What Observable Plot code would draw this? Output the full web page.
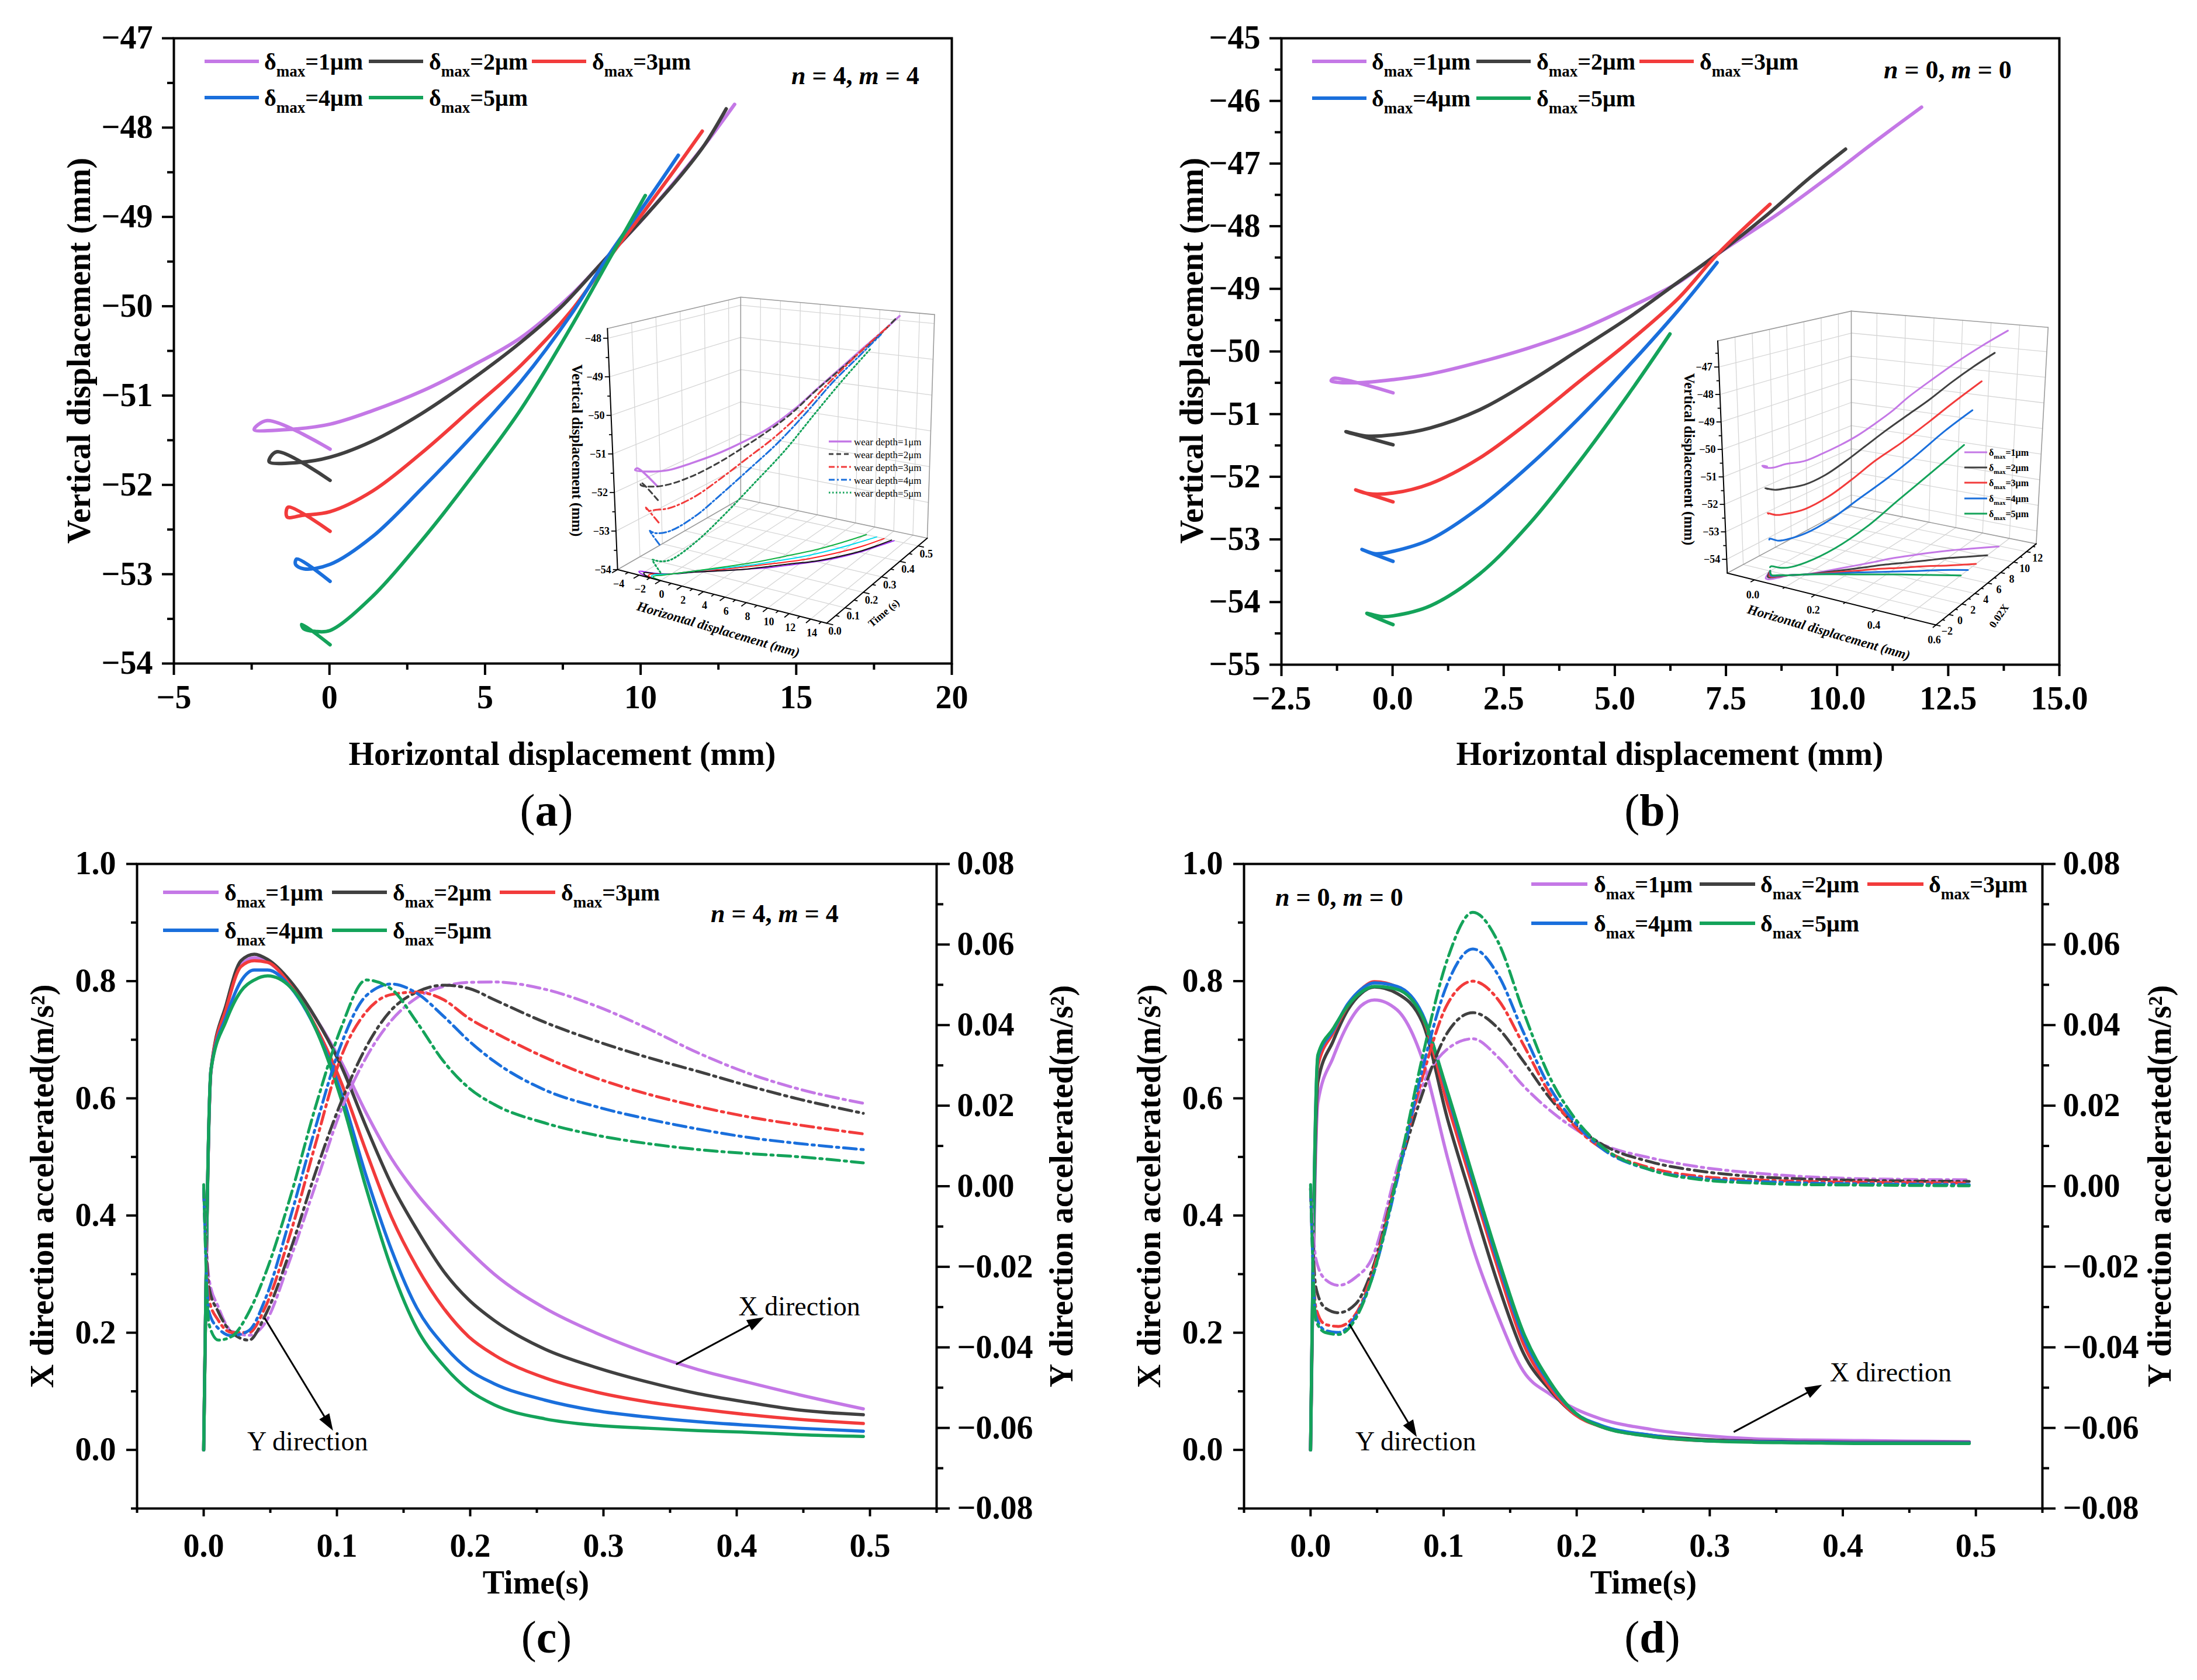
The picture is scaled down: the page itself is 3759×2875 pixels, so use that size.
<!DOCTYPE html>
<html>
<head>
<meta charset="utf-8">
<script src="https://cdn.jsdelivr.net/npm/d3@7"></script>
<script src="https://cdn.jsdelivr.net/npm/@observablehq/plot@0.6"></script>
<style>
html,body{margin:0;padding:0;background:#fff;}
#root{position:relative;width:3759px;height:2875px;background:#fff;overflow:hidden;font-family:"Liberation Serif","Times New Roman",serif;color:#000;}
.abs{position:absolute;white-space:nowrap;line-height:1;}
</style>
</head>
<body>
<div id="root"></div>
<script>
// ---------------- DATA ----------------
const COLORS = ["#c478e6", "#404040", "#f23b3b", "#1a6fdc", "#14a35a"];
const WEAR = [1, 2, 3, 4, 5];

// Panel (a): n=4, m=4 — horizontal (mm), vertical (mm), time (s, for 3D inset)
const A_H = [
  [0.02,-2.0,-2.42,-1.33,0.02,1.38,2.97,4.57,6.16,7.75,9.03,10.15,11.42,12.22,13.02],
  [0.02,-1.70,-1.94,-1.01,0.02,1.38,2.97,4.57,6.16,7.44,8.87,10.15,11.26,12.06,12.75],
  [0.02,-1.33,-1.36,-0.85,0.02,1.38,2.97,4.57,6.16,7.75,9.03,10.15,11.10,11.98],
  [0.02,-1.05,-1.09,-0.82,0.02,1.38,2.97,4.57,6.16,7.75,9.03,10.15,11.21],
  [0.02,-0.89,-0.83,-0.46,0.02,1.38,2.97,4.57,6.16,7.75,9.03,10.15]
];
const A_V = [
  [-51.60,-51.28,-51.38,-51.38,-51.32,-51.17,-50.95,-50.67,-50.35,-49.88,-49.41,-48.99,-48.47,-48.12,-47.74],
  [-51.95,-51.63,-51.74,-51.75,-51.69,-51.51,-51.20,-50.82,-50.40,-50.01,-49.47,-48.99,-48.55,-48.19,-47.79],
  [-52.52,-52.25,-52.36,-52.34,-52.30,-52.07,-51.64,-51.15,-50.66,-50.06,-49.44,-48.92,-48.47,-48.04],
  [-53.08,-52.83,-52.89,-52.94,-52.89,-52.58,-52.04,-51.46,-50.84,-50.10,-49.40,-48.85,-48.31],
  [-53.79,-53.56,-53.61,-53.64,-53.63,-53.25,-52.62,-51.91,-51.15,-50.24,-49.45,-48.76]
];
const A_T = [
  [0,0.01,0.02,0.03,0.05,0.09,0.13,0.17,0.21,0.26,0.30,0.34,0.40,0.45,0.50],
  [0,0.01,0.02,0.03,0.05,0.09,0.13,0.17,0.22,0.26,0.30,0.35,0.40,0.45,0.50],
  [0,0.01,0.02,0.03,0.05,0.10,0.14,0.19,0.24,0.29,0.34,0.39,0.44,0.50],
  [0,0.01,0.02,0.03,0.05,0.10,0.15,0.20,0.26,0.32,0.38,0.44,0.50],
  [0,0.01,0.02,0.03,0.05,0.10,0.16,0.22,0.29,0.36,0.43,0.50]
];

// Panel (b): n=0, m=0
const B_H = [
  [0.01,-1.33,-1.38,-0.83,0.01,0.85,1.96,3.08,4.20,5.31,6.43,7.32,8.66,9.78,10.89,11.90],
  [0.01,-1.05,-0.60,0.01,0.85,1.96,3.08,4.20,5.31,6.43,7.32,8.44,9.33,10.19],
  [0.01,-0.83,-0.55,0.01,0.85,1.96,3.08,4.20,5.31,6.43,7.32,8.49],
  [0.01,-0.69,-0.38,0.01,0.85,1.96,3.08,4.20,5.31,6.43,7.30],
  [0.01,-0.58,-0.27,0.01,0.85,1.96,3.08,4.20,5.31,6.24]
];
const B_V = [
  [-50.66,-50.43,-50.47,-50.50,-50.45,-50.36,-50.17,-49.94,-49.66,-49.30,-48.90,-48.44,-47.81,-47.23,-46.63,-46.10],
  [-51.49,-51.28,-51.35,-51.33,-51.22,-50.93,-50.48,-49.97,-49.46,-48.89,-48.44,-47.81,-47.26,-46.77],
  [-52.40,-52.21,-52.27,-52.26,-52.11,-51.70,-51.12,-50.48,-49.85,-49.15,-48.44,-47.65],
  [-53.35,-53.16,-53.23,-53.19,-53.00,-52.49,-51.82,-51.06,-50.23,-49.34,-48.58],
  [-54.36,-54.18,-54.23,-54.22,-54.06,-53.55,-52.75,-51.76,-50.68,-49.72]
];
const B_T = [
  [0,0.02,0.03,0.045,0.06,0.10,0.13,0.16,0.19,0.22,0.25,0.28,0.33,0.38,0.44,0.50],
  [0,0.02,0.04,0.06,0.10,0.14,0.18,0.22,0.26,0.31,0.35,0.40,0.45,0.50],
  [0,0.02,0.04,0.06,0.10,0.15,0.20,0.25,0.31,0.37,0.43,0.50],
  [0,0.02,0.04,0.06,0.10,0.16,0.22,0.29,0.36,0.43,0.50],
  [0,0.02,0.04,0.06,0.10,0.17,0.25,0.33,0.42,0.50]
];

// Panel (c): n=4, m=4 accelerations
const C_TX = [0,0.0055,0.017,0.028,0.038,0.048,0.065,0.084,0.103,0.122,0.141,0.160,0.180,0.199,0.218,0.256,0.294,0.333,0.371,0.409,0.447,0.495];
const C_X = [
  [0,0.646,0.754,0.828,0.840,0.833,0.797,0.737,0.663,0.575,0.497,0.437,0.385,0.340,0.300,0.242,0.200,0.165,0.137,0.115,0.094,0.070],
  [0,0.649,0.761,0.835,0.846,0.837,0.800,0.737,0.656,0.551,0.453,0.376,0.305,0.256,0.221,0.172,0.141,0.116,0.096,0.081,0.068,0.060],
  [0,0.649,0.754,0.825,0.835,0.832,0.793,0.723,0.628,0.509,0.397,0.312,0.242,0.193,0.162,0.123,0.099,0.082,0.070,0.060,0.052,0.045],
  [0,0.649,0.740,0.800,0.819,0.819,0.790,0.719,0.611,0.467,0.341,0.242,0.179,0.137,0.113,0.085,0.067,0.056,0.048,0.042,0.037,0.032],
  [0,0.649,0.733,0.783,0.802,0.809,0.790,0.719,0.600,0.446,0.309,0.207,0.144,0.102,0.077,0.053,0.042,0.037,0.033,0.030,0.026,0.023]
];
const C_TY = [0,0.004,0.011,0.021,0.034,0.046,0.065,0.084,0.103,0.122,0.141,0.160,0.180,0.199,0.218,0.256,0.294,0.333,0.371,0.409,0.447,0.495];
const C_Y = [
  [-0.001,-0.023,-0.030,-0.036,-0.037,-0.034,-0.018,0.0004,0.0188,0.032,0.0412,0.0468,0.0496,0.0506,0.0507,0.0489,0.0448,0.0392,0.0331,0.028,0.0241,0.0206],
  [-0.0006,-0.0251,-0.0312,-0.0363,-0.0382,-0.0322,-0.0159,0.0035,0.0208,0.0346,0.0438,0.0482,0.0499,0.0491,0.0463,0.0407,0.0361,0.032,0.0285,0.0249,0.0216,0.0181],
  [-0.0006,-0.0282,-0.0333,-0.0363,-0.0363,-0.0302,-0.0118,0.0106,0.032,0.0433,0.0476,0.0482,0.0463,0.0417,0.0382,0.032,0.0269,0.0229,0.0198,0.0172,0.0152,0.013],
  [-0.0006,-0.0312,-0.0353,-0.0371,-0.0358,-0.0282,-0.0078,0.0147,0.0351,0.0473,0.0502,0.0479,0.0422,0.0361,0.031,0.0239,0.0198,0.0167,0.0142,0.0121,0.0106,0.0091],
  [0.0004,-0.0343,-0.0382,-0.0373,-0.0312,-0.022,-0.0027,0.0198,0.0392,0.0512,0.0489,0.0407,0.031,0.0244,0.0203,0.0157,0.0127,0.0106,0.0091,0.0081,0.0073,0.0058]
];

// Panel (d): n=0, m=0 accelerations
const D_TX = [0,0.0055,0.017,0.028,0.038,0.048,0.065,0.084,0.103,0.122,0.141,0.160,0.180,0.199,0.218,0.256,0.294,0.333,0.371,0.409,0.447,0.495];
const D_X = [
  [0,0.593,0.670,0.726,0.758,0.768,0.751,0.667,0.498,0.345,0.228,0.134,0.095,0.070,0.053,0.035,0.025,0.019,0.017,0.016,0.015,0.014],
  [0,0.628,0.698,0.751,0.779,0.790,0.779,0.730,0.564,0.421,0.282,0.165,0.102,0.060,0.040,0.025,0.018,0.015,0.014,0.013,0.013,0.013],
  [0,0.656,0.712,0.758,0.786,0.799,0.790,0.740,0.590,0.449,0.309,0.181,0.106,0.060,0.040,0.023,0.016,0.014,0.013,0.012,0.012,0.012],
  [0,0.670,0.716,0.761,0.786,0.797,0.791,0.744,0.607,0.460,0.320,0.193,0.113,0.063,0.042,0.025,0.016,0.014,0.013,0.012,0.012,0.012],
  [0,0.674,0.719,0.758,0.781,0.791,0.786,0.740,0.611,0.467,0.327,0.200,0.116,0.063,0.040,0.023,0.016,0.013,0.012,0.011,0.011,0.011]
];
const D_TY = [0,0.004,0.011,0.021,0.034,0.046,0.065,0.084,0.103,0.122,0.141,0.160,0.180,0.199,0.218,0.256,0.294,0.333,0.371,0.409,0.447,0.495];
const D_Y = [
  [0.0004,-0.018,-0.0231,-0.0246,-0.0226,-0.018,0.0045,0.0249,0.0341,0.0366,0.032,0.0249,0.0188,0.0142,0.0106,0.007,0.0047,0.0033,0.0024,0.0019,0.0017,0.0016],
  [-0.0006,-0.0251,-0.0302,-0.0314,-0.0292,-0.021,0.0024,0.0229,0.0382,0.0431,0.0392,0.031,0.0218,0.0152,0.0106,0.006,0.0037,0.0024,0.0018,0.0015,0.0013,0.0012],
  [-0.0006,-0.0302,-0.0343,-0.0348,-0.0317,-0.022,0.0024,0.0269,0.0453,0.0509,0.0463,0.0351,0.0229,0.0147,0.0096,0.0045,0.0024,0.0016,0.0012,0.001,0.0009,0.0008],
  [-0.0006,-0.0322,-0.0358,-0.0363,-0.0322,-0.0231,0.0014,0.029,0.0504,0.0589,0.0524,0.0382,0.0244,0.0157,0.0096,0.004,0.0019,0.0012,0.0008,0.0006,0.0005,0.0004],
  [0.0004,-0.0333,-0.0363,-0.0368,-0.0328,-0.0231,0.0024,0.032,0.0565,0.068,0.0606,0.0433,0.0269,0.0167,0.0101,0.004,0.0016,0.0008,0.0004,0.0003,0.0002,0.0001]
];

// ticks
const A_XTICKS = [-5,0,5,10,15,20], A_XMINOR = [-2.5,2.5,7.5,12.5,17.5];
const A_YTICKS = [-54,-53,-52,-51,-50,-49,-48,-47], A_YMINOR = [-53.5,-52.5,-51.5,-50.5,-49.5,-48.5,-47.5];
const B_XTICKS = [-2.5,0,2.5,5,7.5,10,12.5,15], B_XMINOR = [-1.25,1.25,3.75,6.25,8.75,11.25,13.75];
const B_YTICKS = [-55,-54,-53,-52,-51,-50,-49,-48,-47,-46,-45], B_YMINOR = [-54.5,-53.5,-52.5,-51.5,-50.5,-49.5,-48.5,-47.5,-46.5,-45.5];
const T_TICKS = [0,0.1,0.2,0.3,0.4,0.5], T_MINOR = [-0.05,0.05,0.15,0.25,0.35,0.45,0.55];
const XACC_TICKS = [0,0.2,0.4,0.6,0.8,1.0], XACC_MINOR = [-0.1,0.1,0.3,0.5,0.7,0.9];
const YACC_TICKS = [-0.08,-0.06,-0.04,-0.02,0,0.02,0.04,0.06,0.08], YACC_MINOR = [-0.07,-0.05,-0.03,-0.01,0.01,0.03,0.05,0.07];

// annotations
const C_NOTES = [{text:"X direction", t:0.447, y:0.244}, {text:"Y direction", t:0.078, y:0.014}];
const C_ARROWS = [{t1:0.3545,y1:0.146,t2:0.4176,y2:0.223},{t1:0.0457,y1:0.225,t2:0.0954,y2:0.039}];
const D_NOTES = [{text:"X direction", t:0.436, y:0.132}, {text:"Y direction", t:0.079, y:0.014}];
const D_ARROWS = [{t1:0.318,y1:0.0305,t2:0.3816,y2:0.1077},{t1:0.0292,y1:0.2143,t2:0.0782,y2:0.0284}];

// ---------------- HELPERS ----------------
const root = document.getElementById("root");
const BASE_STYLE = {fontFamily:"'Liberation Serif','Times New Roman',serif", maxWidth:"none", overflow:"visible", background:"transparent", display:"block", fontWeight:"bold"};
const Y2L = r => (r + 0.08) / 0.16 * 1.1 - 0.1;
const L2Y = l => (l + 0.1) / 1.1 * 0.16 - 0.08;
function fmtNum(d, n) {
  const a = Math.abs(d) < 1e-9 ? 0 : d;
  return (a < 0 ? "\u2212" : "") + Math.abs(a).toFixed(n);
}
function place(el, left, top) {
  el.style.position = "absolute"; el.style.left = left + "px"; el.style.top = top + "px";
  root.appendChild(el);
}
function txt(html, x, y, o = {}) {
  const d = document.createElement("div");
  d.className = "abs";
  d.innerHTML = html;
  d.style.left = x + "px"; d.style.top = y + "px";
  d.style.fontSize = (o.size || 56) + "px";
  d.style.fontWeight = o.weight || "bold";
  if (o.italic) d.style.fontStyle = "italic";
  const ax = o.anchor === "start" ? "0" : o.anchor === "end" ? "-100%" : "-50%";
  d.style.transform = `translate(${ax},-50%)` + (o.rotate ? ` rotate(${o.rotate}deg)` : "");
  root.appendChild(d);
  return d;
}
function legendEntry(e) {
  const ns = "http://www.w3.org/2000/svg";
  const svg = document.createElementNS(ns, "svg");
  const len = e.x2 - e.x1;
  svg.setAttribute("width", len); svg.setAttribute("height", e.lw * 2 + 2);
  svg.style.position = "absolute"; svg.style.left = e.x1 + "px"; svg.style.top = (e.y - e.lw - 1) + "px"; svg.style.overflow = "visible";
  const ln = document.createElementNS(ns, "line");
  ln.setAttribute("x1", 0); ln.setAttribute("x2", len);
  ln.setAttribute("y1", e.lw + 1); ln.setAttribute("y2", e.lw + 1);
  ln.setAttribute("stroke", e.color); ln.setAttribute("stroke-width", e.lw);
  if (e.dash) ln.setAttribute("stroke-dasharray", e.dash);
  svg.appendChild(ln); root.appendChild(svg);
  txt(e.html, e.tx, e.y + 1, {size: e.size, weight: e.weight || "bold", anchor: "start"});
}
function deltaHtml(k, size, sub, dy) {
  return `δ<span style="font-size:${sub}px;position:relative;top:${dy}px">max</span>=${k}μm`;
}
function mainLegend(rows, cols) {
  const slots = [[0,0],[0,1],[0,2],[1,0],[1,1]];
  slots.forEach(([r, c], s) => legendEntry({x1: cols[c][0], x2: cols[c][1], tx: cols[c][2], y: rows[r], color: COLORS[s], lw: 6, size: 40, html: deltaHtml(WEAR[s], 40, 27, 12)}));
}
function fixArrows(svg) {
  svg.querySelectorAll("marker").forEach(m => {
    m.setAttribute("markerWidth", "16"); m.setAttribute("markerHeight", "16");
    m.setAttribute("fill", "#000"); m.setAttribute("stroke", "none");
    const p = m.querySelector("path");
    if (p) p.setAttribute("d", "M-4.5,-2.1L1.5,0L-4.5,2.1Z");
  });
}

function mainPanel(p) {
  const tickText = {fontSize: 56, fontWeight: "bold", strokeWidth: 4, label: null};
  const marks = [...p.marks,
    Plot.frame({stroke: "#000", strokeWidth: 4}),
    Plot.axisX(p.xMajor, {anchor: "bottom", tickSize: p.xt[0], tickPadding: p.xPad, tickFormat: p.xFmt, ...tickText}),
    Plot.axisX(p.xMinor, {anchor: "bottom", tickSize: p.xt[1], tickFormat: () => "", strokeWidth: 4, label: null}),
    Plot.axisY(p.yMajor, {anchor: "left", tickSize: p.yt[0], tickPadding: p.yPad, tickFormat: p.yFmt, ...tickText}),
    Plot.axisY(p.yMinor, {anchor: "left", tickSize: p.yt[1], tickFormat: () => "", strokeWidth: 4, label: null})
  ];
  if (p.right) {
    marks.push(
      Plot.axisY(YACC_TICKS.map(Y2L), {anchor: "right", tickSize: 22, tickPadding: 13, tickFormat: l => fmtNum(L2Y(l), 2), ...tickText}),
      Plot.axisY(YACC_MINOR.map(Y2L), {anchor: "right", tickSize: 11, tickFormat: () => "", strokeWidth: 4, label: null})
    );
  }
  const svg = Plot.plot({
    width: p.width, height: p.height,
    marginLeft: p.mL, marginRight: p.mR, marginTop: p.mT, marginBottom: p.mB,
    x: {domain: p.xDomain, label: null}, y: {domain: p.yDomain, label: null},
    style: BASE_STYLE, marks
  });
  place(svg, p.left, p.top);
  return svg;
}

function trajMarks(H, V) {
  return H.map((hs, s) => Plot.line(hs.map((h, i) => ({x: h, y: V[s][i]})),
    {x: "x", y: "y", stroke: COLORS[s], strokeWidth: 6, curve: "catmull-rom", strokeLinecap: "round", strokeLinejoin: "round"}));
}
function accMarks(TX, X, TY, Y, notes, arrows) {
  const m = [];
  X.forEach((vals, s) => m.push(Plot.line(TX.map((t, i) => ({x: t, y: vals[i]})),
    {x: "x", y: "y", stroke: COLORS[s], strokeWidth: 5.5, curve: "monotone-x", strokeLinejoin: "round"})));
  Y.forEach((vals, s) => m.push(Plot.line(TY.map((t, i) => ({x: t, y: Y2L(vals[i])})),
    {x: "x", y: "y", stroke: COLORS[s], strokeWidth: 5, curve: "monotone-x", strokeDasharray: "22,8,4,8"})));
  m.push(Plot.link(arrows, {x1: "t1", y1: "y1", x2: "t2", y2: "y2", stroke: "#000", strokeWidth: 3, markerEnd: "arrow"}));
  m.push(Plot.text(notes, {x: "t", y: "y", text: "text", fontSize: 46, fontWeight: "normal", fill: "#000"}));
  return m;
}

// ---------------- MAIN PANELS ----------------
mainPanel({left: 0, top: 0, width: 1880, height: 1400, mL: 297, mR: 252, mT: 65, mB: 265,
  xDomain: [-5, 20], yDomain: [-54, -47], xMajor: A_XTICKS, xMinor: A_XMINOR, yMajor: A_YTICKS, yMinor: A_YMINOR,
  xFmt: d => fmtNum(d, 0), yFmt: d => fmtNum(d, 0), xt: [20, 11], xPad: 17, yt: [20, 11], yPad: 16,
  marks: trajMarks(A_H, A_V)});
mainPanel({left: 1880, top: 0, width: 1879, height: 1400, mL: 312, mR: 236, mT: 65, mB: 263,
  xDomain: [-2.5, 15], yDomain: [-55, -45], xMajor: B_XTICKS, xMinor: B_XMINOR, yMajor: B_YTICKS, yMinor: B_YMINOR,
  xFmt: d => fmtNum(d, 1), yFmt: d => fmtNum(d, 0), xt: [20, 11], xPad: 17, yt: [20, 11], yPad: 16,
  marks: trajMarks(B_H, B_V)});
const svgC = mainPanel({left: 0, top: 1400, width: 1880, height: 1475, mL: 234, mR: 278, mT: 78, mB: 294,
  xDomain: [-0.05, 0.55], yDomain: [-0.1, 1.0], xMajor: T_TICKS, xMinor: T_MINOR, yMajor: XACC_TICKS, yMinor: XACC_MINOR,
  xFmt: d => fmtNum(d, 1), yFmt: d => fmtNum(d, 1), xt: [14, 8], xPad: 29, yt: [18, 10], yPad: 18, right: true,
  marks: accMarks(C_TX, C_X, C_TY, C_Y, C_NOTES, C_ARROWS)});
const svgD = mainPanel({left: 1880, top: 1400, width: 1879, height: 1475, mL: 248, mR: 265, mT: 78, mB: 294,
  xDomain: [-0.05, 0.55], yDomain: [-0.1, 1.0], xMajor: T_TICKS, xMinor: T_MINOR, yMajor: XACC_TICKS, yMinor: XACC_MINOR,
  xFmt: d => fmtNum(d, 1), yFmt: d => fmtNum(d, 1), xt: [14, 8], xPad: 29, yt: [18, 10], yPad: 18, right: true,
  marks: accMarks(D_TX, D_X, D_TY, D_Y, D_NOTES, D_ARROWS)});
fixArrows(svgC); fixArrows(svgD);

// ---------------- 3D INSETS ----------------
function makeProj(P, dom) {
  return (u, v, w) => {
    const a = (u - dom.u[0]) / (dom.u[1] - dom.u[0]);
    const b = (v - dom.v[0]) / (dom.v[1] - dom.v[0]);
    const c = (w - dom.w[0]) / (dom.w[1] - dom.w[0]);
    const k00 = (1 - a) * (1 - b), k10 = a * (1 - b), k11 = a * b, k01 = (1 - a) * b;
    const bx = k00 * P.A[0] + k10 * P.D[0] + k11 * P.C[0] + k01 * P.B[0];
    const by = k00 * P.A[1] + k10 * P.D[1] + k11 * P.C[1] + k01 * P.B[1];
    const tx = k00 * P.At[0] + k10 * P.Dt[0] + k11 * P.Ct[0] + k01 * P.Bt[0];
    const ty = k00 * P.At[1] + k10 * P.Dt[1] + k11 * P.Ct[1] + k01 * P.Bt[1];
    return [bx + c * (tx - bx), by + c * (ty - by)];
  };
}
function inset(cfg) {
  const proj = makeProj(cfg.P, cfg.dom);
  const [u0, u1] = cfg.dom.u, [v0, v1] = cfg.dom.v, [w0, w1] = cfg.dom.w;
  const segRows = list => list.flatMap((s, k) => s.map(p => { const q = proj(p[0], p[1], p[2]); return {k, x: q[0], y: q[1]}; }));
  const grid = [];
  cfg.uGrid.forEach(u => grid.push([[u, v0, w0], [u, v1, w0]], [[u, v1, w0], [u, v1, w1]]));
  cfg.vGrid.forEach(v => grid.push([[u0, v, w0], [u1, v, w0]], [[u0, v, w0], [u0, v, w1]]));
  cfg.wGrid.forEach(w => grid.push([[u0, v0, w], [u0, v1, w]], [[u0, v1, w], [u1, v1, w]]));
  const edges = [
    [[u0, v1, w0], [u0, v1, w1]], [[u1, v1, w0], [u1, v1, w1]],
    [[u0, v0, w1], [u0, v1, w1]], [[u0, v1, w1], [u1, v1, w1]],
    [[u0, v0, w0], [u0, v1, w0]], [[u0, v1, w0], [u1, v1, w0]]
  ];
  const axes = [[[u0, v0, w0], [u0, v0, w1]], [[u0, v0, w0], [u1, v0, w0]], [[u1, v0, w0], [u1, v1, w0]]];
  const ticks = [];
  const tk = (p, q) => { const a = proj(p[0], p[1], p[2]), b = proj(q[0], q[1], q[2]); ticks.push({x1: a[0], y1: a[1], x2: b[0], y2: b[1]}); };
  cfg.uMajor.forEach(u => tk([u, v0, w0], [u, v0 - cfg.vLen, w0]));
  cfg.uMinor.forEach(u => tk([u, v0, w0], [u, v0 - cfg.vLen * 0.55, w0]));
  cfg.vMajor.forEach(v => tk([u1, v, w0], [u1 + cfg.uLen, v, w0]));
  cfg.vMinor.forEach(v => tk([u1, v, w0], [u1 + cfg.uLen * 0.55, v, w0]));
  cfg.wMajor.forEach(w => { const a = proj(u0, v0, w); ticks.push({x1: a[0], y1: a[1], x2: a[0] - 8, y2: a[1]}); });
  cfg.wMinor.forEach(w => { const a = proj(u0, v0, w); ticks.push({x1: a[0], y1: a[1], x2: a[0] - 5, y2: a[1]}); });
  const wLab = cfg.wMajor.map(w => { const a = proj(u0, v0, w); return {x: a[0] - 11, y: a[1], text: cfg.wFmt(w)}; });
  const uLab = cfg.uLab.map(u => { const a = proj(u, v0, w0); return {x: a[0] + cfg.uOff[0], y: a[1] + cfg.uOff[1], text: cfg.uFmt(u)}; });
  const vLab = cfg.vLab.map(v => { const a = proj(u1, v, w0); return {x: a[0] + cfg.vOff[0], y: a[1] + cfg.vOff[1], text: cfg.vFmt(v)}; });
  const toXY = pts => pts.map(p => { const q = proj(p[0], p[1], p[2]); return {x: q[0], y: q[1]}; });
  const marks = [
    Plot.line(segRows(grid), {x: "x", y: "y", z: "k", stroke: "#d6d6d6", strokeWidth: 1.3}),
    Plot.line(segRows(edges), {x: "x", y: "y", z: "k", stroke: "#9c9c9c", strokeWidth: 1.6})
  ];
  cfg.floors.forEach(f => marks.push(Plot.line(toXY(f.pts), {x: "x", y: "y", stroke: f.stroke, strokeWidth: f.width, curve: "catmull-rom"})));
  cfg.curves.forEach(f => marks.push(Plot.line(toXY(f.pts), {x: "x", y: "y", stroke: f.stroke, strokeWidth: f.width, strokeDasharray: f.dash, curve: "catmull-rom"})));
  marks.push(
    Plot.line(segRows(axes), {x: "x", y: "y", z: "k", stroke: "#000", strokeWidth: 2}),
    Plot.link(ticks, {x1: "x1", y1: "y1", x2: "x2", y2: "y2", stroke: "#000", strokeWidth: 1.8}),
    Plot.text(wLab, {x: "x", y: "y", text: "text", textAnchor: "end", fontSize: 18, fontWeight: "bold", fill: "#000"}),
    Plot.text(uLab, {x: "x", y: "y", text: "text", fontSize: 18, fontWeight: "bold", fill: "#000"}),
    Plot.text(vLab, {x: "x", y: "y", text: "text", fontSize: 18, fontWeight: "bold", fill: "#000"})
  );
  const svg = Plot.plot({
    width: cfg.W, height: cfg.H, margin: 0,
    x: {domain: [cfg.ox, cfg.ox + cfg.W], range: [0, cfg.W], axis: null},
    y: {domain: [cfg.oy, cfg.oy + cfg.H], range: [0, cfg.H], axis: null},
    style: BASE_STYLE, marks
  });
  place(svg, cfg.ox, cfg.oy);
}

const INSET_A_STYLE = [
  {stroke: COLORS[0], width: 3.5, dash: null},
  {stroke: "#404040", width: 3, dash: "9,6"},
  {stroke: "#f23b3b", width: 3, dash: "12,5,3,5"},
  {stroke: "#1a6fdc", width: 3, dash: "12,4,3,4"},
  {stroke: "#14a35a", width: 3, dash: "2.5,4"}
];
const INSET_A_FLOOR = ["#a030f0", "#111111", "#ff2020", "#00dcee", "#10b040"];

inset({
  ox: 960, oy: 480, W: 680, H: 660,
  P: {A: [1056.2, 974.3], D: [1414.0, 1066.0], C: [1586.0, 920.5], B: [1266.8, 852.7],
      At: [1038.8, 561.8], Dt: [1409.0, 615.6], Ct: [1598.5, 537.9], Bt: [1266.8, 508.0]},
  dom: {u: [-4, 15.5], v: [0, 0.55], w: [-54, -47.75]},
  uGrid: [-2, 0, 2, 4, 6, 8, 10, 12, 14], vGrid: [0.1, 0.2, 0.3, 0.4, 0.5], wGrid: [-53, -52, -51, -50, -49, -48],
  uMajor: [-4, -2, 0, 2, 4, 6, 8, 10, 12, 14], uMinor: [-3, -1, 1, 3, 5, 7, 9, 11, 13, 15],
  vMajor: [0, 0.1, 0.2, 0.3, 0.4, 0.5], vMinor: [0.05, 0.15, 0.25, 0.35, 0.45],
  wMajor: [-54, -53, -52, -51, -50, -49, -48], wMinor: [-53.5, -52.5, -51.5, -50.5, -49.5, -48.5],
  uLab: [-4, -2, 0, 2, 4, 6, 8, 10, 12, 14], vLab: [0, 0.1, 0.2, 0.3, 0.4, 0.5],
  uFmt: d => fmtNum(d, 0), vFmt: d => fmtNum(d, 1), wFmt: d => fmtNum(d, 0),
  uOff: [2, 24], vOff: [14, 14],
  vLen: 0.025, uLen: 0.6,
  floors: A_H.map((hs, s) => ({stroke: INSET_A_FLOOR[s], width: 2, pts: hs.map((h, i) => [h, A_T[s][i], -54])})),
  curves: A_H.map((hs, s) => ({...INSET_A_STYLE[s], pts: hs.map((h, i) => [h, A_T[s][i], A_V[s][i]])}))
});

inset({
  ox: 2860, oy: 500, W: 680, H: 650,
  P: {A: [2954.8, 980.2], D: [3311.9, 1069.0], C: [3483.4, 930.1], B: [3167.0, 866.4],
      At: [2938.5, 582.9], Dt: [3316.0, 635.7], Ct: [3503.8, 559.7], Bt: [3167.0, 531.9]},
  dom: {u: [-0.09, 0.6], v: [-2, 13.5], w: [-54.5, -46.05]},
  uGrid: [0, 0.1, 0.2, 0.3, 0.4, 0.5], vGrid: [0, 2, 4, 6, 8, 10, 12], wGrid: [-54, -53, -52, -51, -50, -49, -48, -47],
  uMajor: [0, 0.2, 0.4, 0.6], uMinor: [0.1, 0.3, 0.5],
  vMajor: [-2, 0, 2, 4, 6, 8, 10, 12], vMinor: [-1, 1, 3, 5, 7, 9, 11, 13],
  wMajor: [-54, -53, -52, -51, -50, -49, -48, -47], wMinor: [-53.5, -52.5, -51.5, -50.5, -49.5, -48.5, -47.5, -46.5],
  uLab: [0, 0.2, 0.4, 0.6], vLab: [-2, 0, 2, 4, 6, 8, 10, 12],
  uFmt: d => fmtNum(d, 1), vFmt: d => fmtNum(d, 0), wFmt: d => fmtNum(d, 0),
  uOff: [-3, 26], vOff: [19, 11],
  vLen: 0.5, uLen: 0.015,
  floors: B_H.map((hs, s) => ({stroke: COLORS[s], width: 3, pts: hs.map((h, i) => [B_T[s][i], h, -54.5])})),
  curves: B_H.map((hs, s) => ({stroke: COLORS[s], width: 3, dash: null, pts: hs.map((h, i) => [B_T[s][i], h, B_V[s][i]])}))
});

// ---------------- TEXT, LEGENDS ----------------
txt("Horizontal displacement (mm)", 962, 1290, {size: 56});
txt("Vertical displacement (mm)", 135, 600, {size: 56, rotate: -90});
txt("Horizontal displacement (mm)", 2857, 1290, {size: 56});
txt("Vertical displacement (mm)", 2039, 600, {size: 56, rotate: -90});
txt("Time(s)", 917, 2708, {size: 56});
txt("X direction accelerated(m/s²)", 72, 2030, {size: 56, rotate: -90});
txt("Y direction accelerated(m/s²)", 1816, 2030, {size: 56, rotate: -90});
txt("Time(s)", 2812, 2708, {size: 56});
txt("X direction accelerated(m/s²)", 1966, 2030, {size: 56, rotate: -90});
txt("Y direction accelerated(m/s²)", 3695, 2030, {size: 56, rotate: -90});

txt("(<b>a</b>)", 935, 1387, {size: 78, weight: "normal"});
txt("(<b>b</b>)", 2827, 1387, {size: 78, weight: "normal"});
txt("(<b>c</b>)", 935, 2802, {size: 78, weight: "normal"});
txt("(<b>d</b>)", 2827, 2802, {size: 78, weight: "normal"});

txt("<i>n</i> = 4, <i>m</i> = 4", 1354, 130, {size: 44, anchor: "start"});
txt("<i>n</i> = 0, <i>m</i> = 0", 3223, 120, {size: 44, anchor: "start"});
txt("<i>n</i> = 4, <i>m</i> = 4", 1216, 1564, {size: 44, anchor: "start"});
txt("<i>n</i> = 0, <i>m</i> = 0", 2182, 1536, {size: 44, anchor: "start"});

mainLegend([105, 167], [[350, 443, 452], [631, 724, 734], [910, 1003, 1013]]);
mainLegend([105, 167.5], [[2245, 2338, 2347], [2526, 2619, 2629], [2805, 2898, 2908]]);
mainLegend([1527, 1592], [[279, 374, 384], [568, 662, 672], [855, 950, 960]]);
mainLegend([1513, 1580], [[2620, 2716, 2727], [2908, 3003, 3012], [3195, 3291, 3300]]);

// inset titles
txt("Vertical displacement (mm)", 987, 771, {size: 25, rotate: 90});
txt("Horizontal displacement (mm)", 1229, 1077, {size: 23, rotate: 16.3, italic: true});
txt("Time (s)", 1512, 1049, {size: 18, rotate: -40});
txt("Vertical displacement (mm)", 2890, 786, {size: 25, rotate: 90});
txt("Horizontal displacement (mm)", 3129, 1082, {size: 23, rotate: 16.2, italic: true});
txt("0.02X", 3420, 1054, {size: 18, rotate: -55});

// inset legends
[755, 777, 799, 821, 843].forEach((y, s) => legendEntry({x1: 1418, x2: 1457, tx: 1461, y, color: INSET_A_STYLE[s].stroke,
  lw: s === 0 ? 3.5 : 3, dash: [null, "8,5", "10,4,3,4", "10,4,3,4", "2.5,3.5"][s], size: 17, weight: "normal", html: `wear depth=${WEAR[s]}μm`}));
[774, 800, 826, 853, 879].forEach((y, s) => legendEntry({x1: 3361, x2: 3400, tx: 3403, y, color: COLORS[s], lw: 3,
  size: 16, weight: "bold", html: deltaHtml(WEAR[s], 16, 11, 5)}));
</script>
</body>
</html>
